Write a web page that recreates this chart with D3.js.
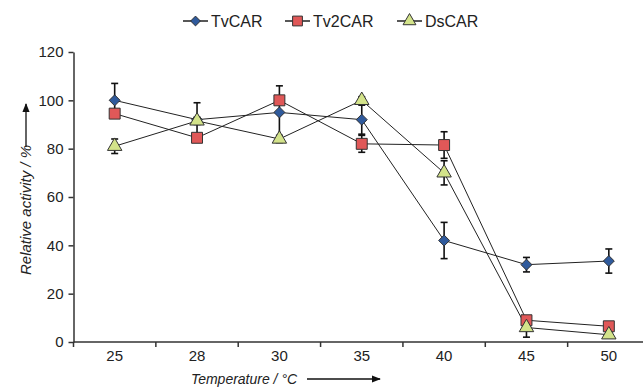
<!DOCTYPE html>
<html>
<head>
<meta charset="utf-8">
<script src="https://cdn.jsdelivr.net/npm/d3@7"></script>
<style>
  body { margin: 0; background: #fff; }
  svg { font-family: "Liberation Sans", Arial, sans-serif; }
  .axis path, .axis line { stroke: #333; stroke-width: 1.5; }
  .axis text { font-size: 15px; fill: #222; }
</style>
</head>
<body>
<div id="chart"></div>
<script>
// data
var temps = ["25", "28", "30", "35", "40", "45", "50"];
var tvcar = [100, 92, 95, 92, 42, 32, 33.5];
var tvcarErr = [7, 7, 11, 6, 7.5, 3, 5];
var tv2car = [94.5, 84.5, 100, 82, 81.5, 9, 6.5];
var tv2carErr = [1.5, 1.5, 1.5, 3.5, 5.5, 1.5, 1];
var dscar = [81, 91.5, 84, 100, 70, 6, 3];
var dscarErr = [3, 1.5, 1.5, 1.5, 5, 4, 1];
var yTicks = [0, 20, 40, 60, 80, 100, 120];

// diamond as a square turned 45 degrees
var rotSquare = {
  draw: function(context, size) {
    var r = Math.sqrt(size / 2);
    context.moveTo(0, -r);
    context.lineTo(r, 0);
    context.lineTo(0, r);
    context.lineTo(-r, 0);
    context.closePath();
  }
};

var series = [
  {name: "TvCAR", values: tvcar, err: tvcarErr, shape: rotSquare, size: 60, fill: "#2f5a9c"},
  {name: "Tv2CAR", values: tv2car, err: tv2carErr, shape: d3.symbolSquare, size: 120, fill: "#e05858"},
  {name: "DsCAR", values: dscar, err: dscarErr, shape: d3.symbolTriangle, size: 90, fill: "#d3e38a"}
];

var width = 643, height = 390;

var x = d3.scaleBand()
    .domain(temps)
    .range([73.5, 650])
    .padding(0);
var y = d3.scaleLinear()
    .domain([0, 120])
    .range([342, 52]);

var svg = d3.select("#chart").append("svg")
    .attr("width", width)
    .attr("height", height);

// x axis, ticks sit between the categories
var xAxis = svg.append("g")
    .attr("class", "axis")
    .attr("transform", "translate(0," + y(0) + ")");
xAxis.append("line")
    .attr("x1", x.range()[0]).attr("x2", x.range()[1]);
xAxis.selectAll(".tick")
    .data(temps)
  .enter().append("line")
    .attr("x1", function(d) { return x(d); })
    .attr("x2", function(d) { return x(d); })
    .attr("y1", 0).attr("y2", 5);
xAxis.selectAll("text")
    .data(temps)
  .enter().append("text")
    .attr("x", function(d) { return x(d) + x.bandwidth() / 2; })
    .attr("y", 19)
    .style("text-anchor", "middle")
    .text(function(d) { return d; });

// y axis
svg.append("g")
    .attr("class", "axis")
    .attr("transform", "translate(" + x.range()[0] + ",0)")
    .call(d3.axisLeft(y).tickValues(yTicks).tickSize(5).tickSizeOuter(0).tickPadding(5));

// axis titles with arrows
svg.append("text")
    .attr("transform", "translate(31,210) rotate(-90)")
    .style("text-anchor", "middle")
    .style("font-style", "italic")
    .style("font-size", "15px")
    .attr("fill", "#222")
    .text("Relative activity / %");

svg.append("defs").append("marker")
    .attr("id", "head")
    .attr("viewBox", "0 0 10 10")
    .attr("refX", 9).attr("refY", 5)
    .attr("markerWidth", 7).attr("markerHeight", 7)
    .attr("orient", "auto")
  .append("path")
    .attr("d", "M0,1L10,5L0,9Z")
    .attr("fill", "#111");

svg.append("line")
    .attr("x1", 26).attr("x2", 26)
    .attr("y1", 147).attr("y2", 104)
    .attr("stroke", "#111").attr("stroke-width", 1.3)
    .attr("marker-end", "url(#head)");

svg.append("text")
    .attr("x", 244).attr("y", 384)
    .style("text-anchor", "middle")
    .style("font-style", "italic")
    .style("font-size", "14px")
    .attr("fill", "#222")
    .text("Temperature / °C");

svg.append("line")
    .attr("x1", 307).attr("x2", 380)
    .attr("y1", 379).attr("y2", 379)
    .attr("stroke", "#111").attr("stroke-width", 1.3)
    .attr("marker-end", "url(#head)");

var cx = function(i) { return x(temps[i]) + x.bandwidth() / 2; };

var line = d3.line()
    .x(function(d, i) { return cx(i); })
    .y(function(d) { return y(d); });

// error bars
series.forEach(function(s) {
  var g = svg.append("g");
  s.values.forEach(function(v, i) {
    var top = y(v + s.err[i]), bot = y(v - s.err[i]);
    g.append("line")
      .attr("x1", cx(i)).attr("x2", cx(i))
      .attr("y1", top).attr("y2", bot)
      .attr("stroke", "#111").attr("stroke-width", 1.6);
    [top, bot].forEach(function(yy) {
      g.append("line")
        .attr("x1", cx(i) - 3.5).attr("x2", cx(i) + 3.5)
        .attr("y1", yy).attr("y2", yy)
        .attr("stroke", "#111").attr("stroke-width", 1.6);
    });
  });
});

// lines
series.forEach(function(s) {
  svg.append("path")
    .datum(s.values)
    .attr("d", line)
    .attr("fill", "none")
    .attr("stroke", "#222")
    .attr("stroke-width", 1);
});

// markers
series.forEach(function(s) {
  svg.append("g").selectAll("path")
    .data(s.values)
  .enter().append("path")
    .attr("transform", function(d, i) { return "translate(" + cx(i) + "," + y(d) + ")"; })
    .attr("d", d3.symbol().type(s.shape).size(s.size))
    .attr("fill", s.fill)
    .attr("stroke", "#333")
    .attr("stroke-width", 1);
});

// legend
var legendX = [183, 285, 397];
var legend = svg.selectAll(".legend")
    .data(series)
  .enter().append("g")
    .attr("class", "legend")
    .attr("transform", function(d, i) { return "translate(" + legendX[i] + ",21)"; });

legend.append("line")
    .attr("x1", 0).attr("x2", 25)
    .attr("stroke", "#111").attr("stroke-width", 1.4);

legend.append("path")
    .attr("transform", "translate(12.5,0)")
    .attr("d", function(d) { return d3.symbol().type(d.shape).size(d.size * 0.8)(); })
    .attr("fill", function(d) { return d.fill; })
    .attr("stroke", "#333");

legend.append("text")
    .attr("x", 28)
    .attr("y", 0)
    .attr("dy", ".35em")
    .style("font-size", "16px")
    .attr("fill", "#222")
    .text(function(d) { return d.name; });
</script>
</body>
</html>
